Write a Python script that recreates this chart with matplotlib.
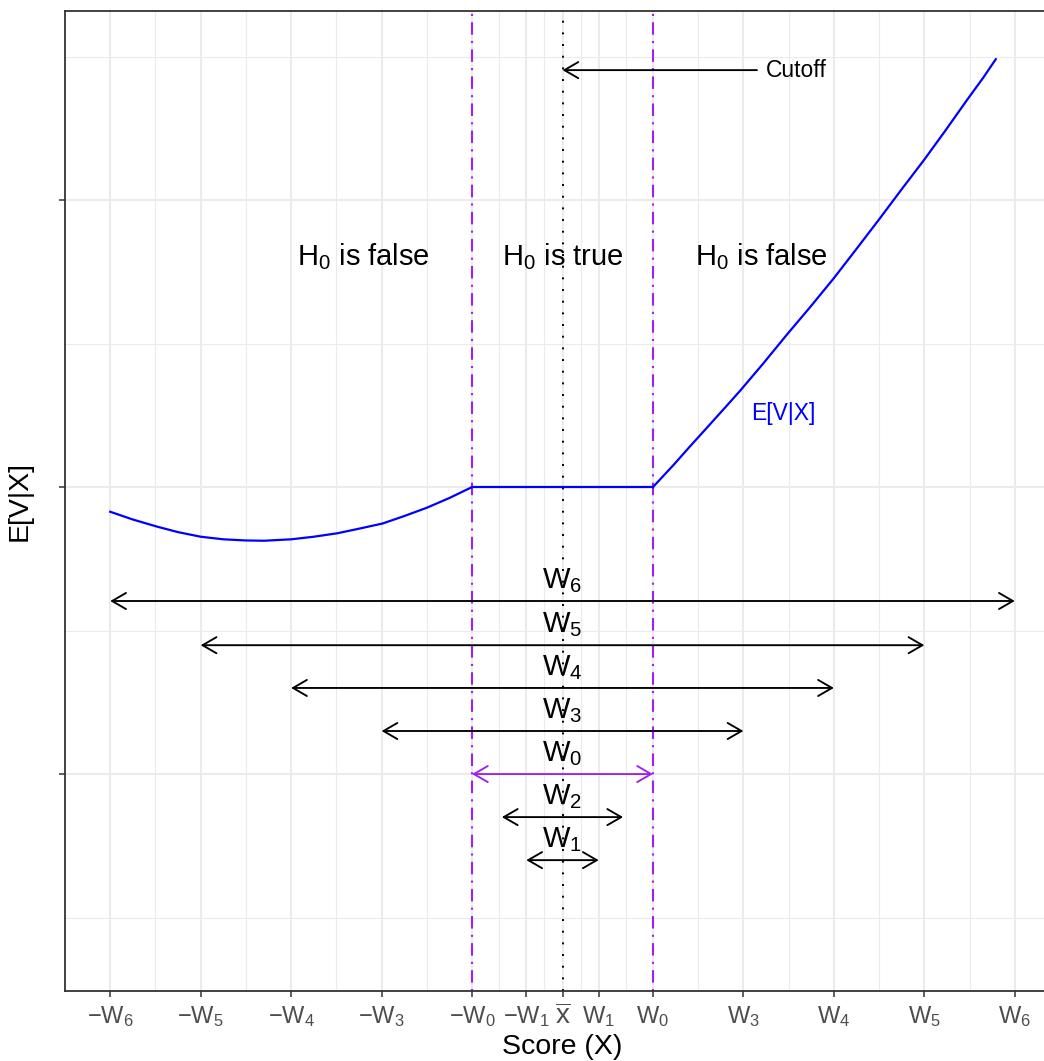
# Expected value of V given the score X, with the W windows around the cutoff

import matplotlib
matplotlib.use('Agg')
import matplotlib.pyplot as plt
from matplotlib.patches import FancyArrowPatch

# Font settings (Helvetica look-alike, also inside math text)
plt.rcParams['font.family'] = 'Liberation Sans'
plt.rcParams['mathtext.fontset'] = 'custom'
plt.rcParams['mathtext.rm'] = 'Liberation Sans'
plt.rcParams['mathtext.it'] = 'Liberation Sans:italic'
plt.rcParams['mathtext.bf'] = 'Liberation Sans:bold'

# ---- Data ----
# E[V|X] curve, left of -W0
leftX = [-5.0, -4.75, -4.48, -4.25, -4.0, -3.75, -3.5, -3.3, -3.0, -2.75, -2.49, -2.25,
         -1.99, -1.75, -1.5, -1.25, -1.0]
leftY = [-0.086, -0.113, -0.138, -0.157, -0.173, -0.182, -0.186, -0.187, -0.182, -0.173,
         -0.161, -0.145, -0.127, -0.101, -0.072, -0.038, 0.0]
# flat part between -W0 and W0
midX = [-1.0, 1.0]
midY = [0.0, 0.0]
# right of W0
rightX = [1.0, 1.23, 1.41, 1.60, 1.80, 1.97, 2.22, 2.48, 2.74, 3.0, 3.26, 3.51, 3.75,
          3.99, 4.23, 4.47, 4.65, 4.79]
rightY = [0.0, 0.078, 0.142, 0.208, 0.278, 0.338, 0.431, 0.531, 0.628, 0.728, 0.834,
          0.937, 1.038, 1.137, 1.241, 1.348, 1.426, 1.491]

# Windows W: name, half width, level
winNames = ['6', '5', '4', '3', '0', '2', '1']
winHalf = [5.0, 4.0, 3.0, 2.0, 1.0, 0.67, 0.40]
winLevel = [-0.397, -0.551, -0.700, -0.850, -1.0, -1.15, -1.30]
winColors = ['black', 'black', 'black', 'black', '#A020F0', 'black', 'black']

# x ticks
tickPos = [-5, -4, -3, -2, -1, -0.4, 0, 0.4, 1, 2, 3, 4, 5]
tickLabels = [r'$-\mathrm{W}_6$', r'$-\mathrm{W}_5$', r'$-\mathrm{W}_4$', r'$-\mathrm{W}_3$',
              r'$-\mathrm{W}_0$', r'$-\mathrm{W}_1$', r'$\overline{\mathrm{x}}$', r'$\mathrm{W}_1$',
              r'$\mathrm{W}_0$', r'$\mathrm{W}_3$', r'$\mathrm{W}_4$', r'$\mathrm{W}_5$', r'$\mathrm{W}_6$']
minorPos = [-4.5, -3.5, -2.5, -1.5, -0.7, -0.2, 0.2, 0.7, 1.5, 2.5, 3.5, 4.5]
yTicks = [-1, 0, 1]
yMinor = [-1.5, -0.5, 0.5, 1.5]

# Region labels
regionX = [-2.2, 0.0, 2.2]
regionText = [r'$\mathrm{H}_0$ is false', r'$\mathrm{H}_0$ is true', r'$\mathrm{H}_0$ is false']

# ---- Figure ----
fig = plt.figure(figsize=(10.44, 10.61), dpi=100)
ax = fig.add_axes([65/1044, 70/1061, (1060-65)/1044, (991-11)/1061])
ax.set_xlim(-5.5, 5.5)
ax.set_ylim(-1.756, 1.659)

# Grid like theme_bw
gridCol = '#EBEBEB'
for x in tickPos:
	ax.axvline(x, color=gridCol, lw=1.5, zorder=0)
for x in minorPos:
	ax.axvline(x, color=gridCol, lw=0.8, zorder=0)
for y in yTicks:
	ax.axhline(y, color=gridCol, lw=1.5, zorder=0)
for y in yMinor:
	ax.axhline(y, color=gridCol, lw=0.8, zorder=0)

# Cutoff and W0 lines
ax.axvline(0, color='black', lw=1.4, linestyle=(0, (1, 5)), zorder=2)
for x in [-1, 1]:
	ax.axvline(x, color='#A020F0', lw=1.5, linestyle=(0, (1, 3, 6, 3)), zorder=2)

# Curve
ax.plot(leftX, leftY, color='#0000FF', lw=1.6, zorder=3)
ax.plot(midX, midY, color='#0000FF', lw=1.6, zorder=3)
ax.plot(rightX, rightY, color='#0000FF', lw=1.6, zorder=3)
ax.text(2.44, 0.258, 'E[V|X]', color='#0000FF', fontsize=16.5, ha='center', va='center')

# Window arrows
for name, half, level, col in zip(winNames, winHalf, winLevel, winColors):
	arr = FancyArrowPatch((-half, level), (half, level),
		arrowstyle='<->,head_length=10,head_width=5.8', mutation_scale=1,
		color=col, lw=1.35, shrinkA=0, shrinkB=0, zorder=4)
	ax.add_patch(arr)
	ax.text(0, level + 0.046, r'$\mathrm{W}_' + name + '$', fontsize=21,
		ha='center', va='baseline', zorder=5)

# Cutoff arrow
cut = FancyArrowPatch((2.15, 1.453), (0, 1.453),
	arrowstyle='->,head_length=10,head_width=5.8', mutation_scale=1,
	color='black', lw=1.35, shrinkA=0, shrinkB=0, zorder=4)
ax.add_patch(cut)
ax.text(2.25, 1.453, 'Cutoff', fontsize=16.5, ha='left', va='center')

# Region labels
for x, t in zip(regionX, regionText):
	ax.text(x, 0.773, t, fontsize=21, ha='center', va='baseline')

# Axes
ax.set_xticks(tickPos)
ax.set_xticklabels(tickLabels, fontsize=17, color='#4D4D4D')
ax.get_xticklabels()[6].set_fontsize(20)
ax.set_yticks(yTicks)
ax.set_yticklabels(['', '', ''])
ax.tick_params(length=4.5, width=1.1, color='#333333', pad=5)
for s in ax.spines.values():
	s.set_color('#333333')
	s.set_linewidth(1.3)
ax.set_xlabel('Score (X)', fontsize=20.5, labelpad=3)
ax.set_ylabel('E[V|X]', fontsize=20.5, labelpad=14)

fig.savefig('out.png', dpi=100)
